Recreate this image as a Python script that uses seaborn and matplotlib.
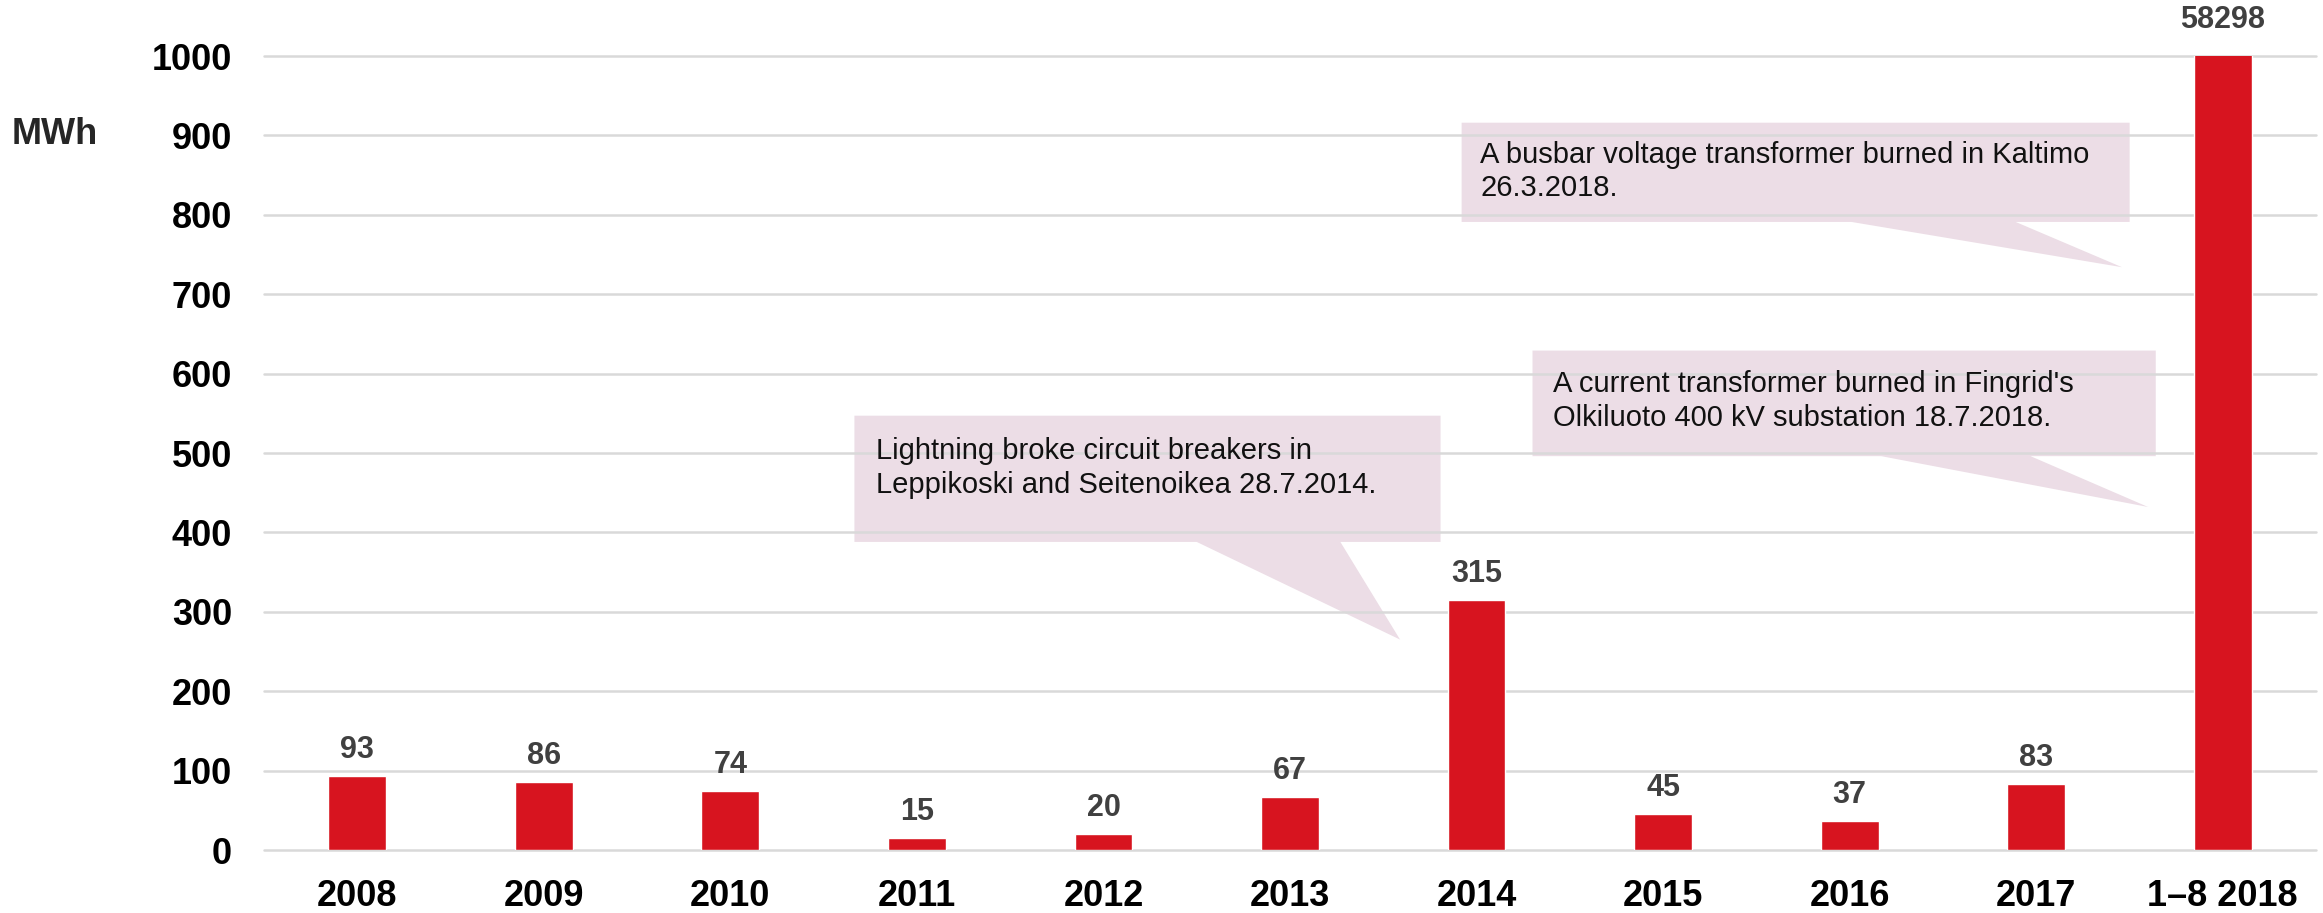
import matplotlib
matplotlib.use("Agg")
import matplotlib.pyplot as plt
from matplotlib.patches import Polygon
import seaborn as sns
import pandas as pd

# data
years = ["2008", "2009", "2010", "2011", "2012", "2013", "2014", "2015", "2016", "2017", "1\u20138 2018"]
mwh = [93, 86, 74, 15, 20, 67, 315, 45, 37, 83, 58298]
y_ticks = [0, 100, 200, 300, 400, 500, 600, 700, 800, 900, 1000]

note_2014 = "Lightning broke circuit breakers in\nLeppikoski and Seitenoikea 28.7.2014."
note_kaltimo = "A busbar voltage transformer burned in Kaltimo\n26.3.2018."
note_olkiluoto = "A current transformer burned in Fingrid's\nOlkiluoto 400 kV substation 18.7.2018."

sns.set_theme(style="white")
plt.rcParams['font.family'] = ['Liberation Sans', 'DejaVu Sans']

df = pd.DataFrame({"year": years, "mwh": mwh})

fig = plt.figure(figsize=(23.23, 9.13), dpi=100)
ax = fig.add_axes([264/2323, 63/913, (2316-264)/2323, (850-56)/913])

sns.barplot(data=df, x="year", y="mwh", color="#D7141F", saturation=1,
            width=0.31, ax=ax, zorder=2)

ax.set_ylim(0, 1000)
ax.set_xlim(-0.5, 10.5)
ax.set_yticks(y_ticks)
ax.set_axisbelow(True)
ax.yaxis.grid(True, color="#D9D9D9", linewidth=1.8)
for g in ax.get_ygridlines():
    g.set_clip_on(False)
ax.xaxis.grid(False)
for s in ax.spines.values():
    s.set_visible(False)
ax.set_xlabel("")
ax.set_ylabel("")
ax.tick_params(axis="y", length=0, pad=23, labelsize=26)
ax.tick_params(axis="x", length=0, pad=21, labelsize=26)
for lab in ax.get_yticklabels() + ax.get_xticklabels():
    lab.set_fontweight("bold")
    lab.set_color("black")

fig.text(12/2323, 1 - 135/913, "MWh", fontsize=26, fontweight="bold", ha="left", va="center")

# value labels
top = ax.get_ylim()[1]
for i, v in enumerate(mwh):
    if v > top:
        ax.annotate(str(v), (i, top), xytext=(0, 15), textcoords="offset points",
                    ha="center", va="bottom", fontsize=22, fontweight="bold",
                    color="#404040", annotation_clip=False)
    else:
        ax.annotate(str(v), (i, v), xytext=(0, 8), textcoords="offset points",
                    ha="center", va="bottom", fontsize=22, fontweight="bold",
                    color="#404040")

# callout boxes
box_color = "#ECDDE6"

def callout(x0, x1, y0, y1, b0, b1, tip, text, tx, ty):
    pts = [(x0, y1), (x1, y1), (x1, y0), (b1, y0), tip, (b0, y0), (x0, y0)]
    ax.add_patch(Polygon(pts, closed=True, facecolor=box_color, edgecolor="none",
                         zorder=0.3, clip_on=False))
    ax.text(tx, ty, text, fontsize=21, ha="left", va="top", color="#111111",
            linespacing=1.25, zorder=3)

callout(2.665, 5.807, 388, 547, 4.50, 5.27, (5.59, 265), note_2014, 2.78, 520)
callout(5.920, 9.501, 791, 916, 8.01, 8.89, (9.46, 734), note_kaltimo, 6.02, 893)
callout(6.300, 9.641, 496, 629, 8.17, 8.97, (9.60, 432), note_olkiluoto, 6.41, 604)

fig.savefig("out.png", dpi=100)
